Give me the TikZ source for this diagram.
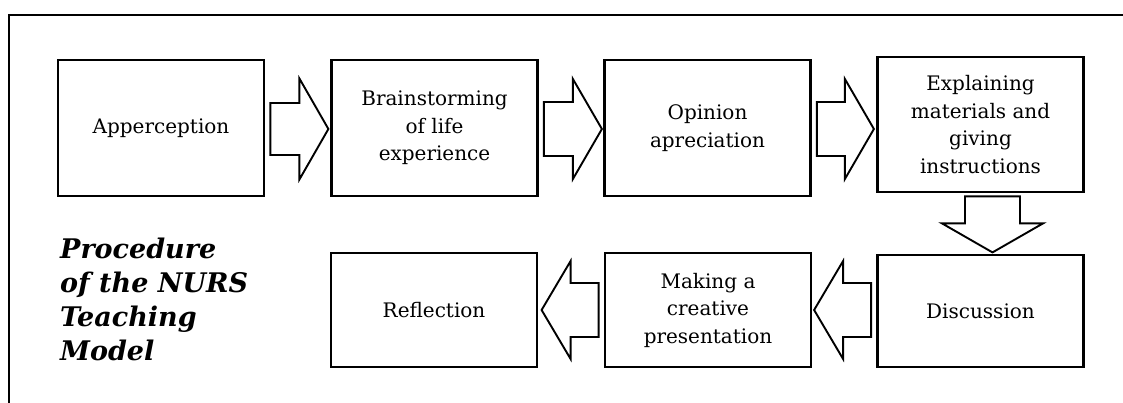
\documentclass[tikz,border=0pt]{standalone}
\usepackage{fontspec}
\setmainfont{DejaVu Serif}
\usepackage{tikz}
\usetikzlibrary{calc}

\tikzset{
  stepbox/.style={draw, line width=2.8pt, align=center, inner sep=0pt,
    minimum width=206, font=\fontsize{20}{27.5}\selectfont},
  % hollow block arrow: length, half shaft width, half head width
  pics/fatarrow/.style n args={3}{code={
    \draw[line width=1.9pt, line join=miter, fill=white]
      (0,#2) -- (#1-29,#2) -- (#1-29,#3) -- (#1,0) -- (#1-29,-#3) -- (#1-29,-#2) -- (0,-#2) -- cycle;
  }}
}

\begin{document}
\begin{tikzpicture}[x=1pt,y=-1pt]
          \useasboundingbox (0,0) rectangle (1123,403);
          % frame
          \draw[line width=2.2pt] (9,403) -- (9,15) -- (1123,15);
          % upper row
          \node[stepbox, minimum height=136] (app) at (161,128) {Apperception};
          \node[stepbox, minimum height=136] (brain) at (434.5,128) {Brainstorming\\of life\\experience};
          \node[stepbox, minimum height=136] (opin) at (707.5,128) {Opinion\\apreciation};
          \node[stepbox, minimum height=135] (expl) at (980.5,124.5) {Explaining\\materials and\\giving\\instructions};
          % lower row
          \node[stepbox, minimum height=112] (disc) at (980.5,311) {Discussion};
          \node[stepbox, minimum height=114] (make) at (708,310) {Making a\\creative\\presentation};
          \node[stepbox, minimum height=114] (refl) at (434,310) {Reflection};
          % title
          \node[anchor=north west, inner sep=0pt, align=left,
                font=\fontsize{27}{34}\selectfont\bfseries\itshape] (title) at (60,238)
                {Procedure\\of the NURS\\Teaching\\Model};
          % arrows between the steps
          \pic at ($(app.east)+(5,1)$) {fatarrow={58}{26}{50.5}};
          \pic at ($(brain.east)+(5,1)$) {fatarrow={58}{27}{50}};
          \pic at ($(opin.east)+(5,1)$) {fatarrow={57}{27}{50}};
          \pic[rotate=-90] at ($(expl.south)+(12,3)$) {fatarrow={56}{27.5}{50.5}};
          \pic[rotate=180] at ($(disc.west)+(-5,-1)$) {fatarrow={57}{27}{49}};
          \pic[rotate=180] at ($(make.west)+(-5,0)$) {fatarrow={57}{27}{49}};
        \end{tikzpicture}
\end{document}
